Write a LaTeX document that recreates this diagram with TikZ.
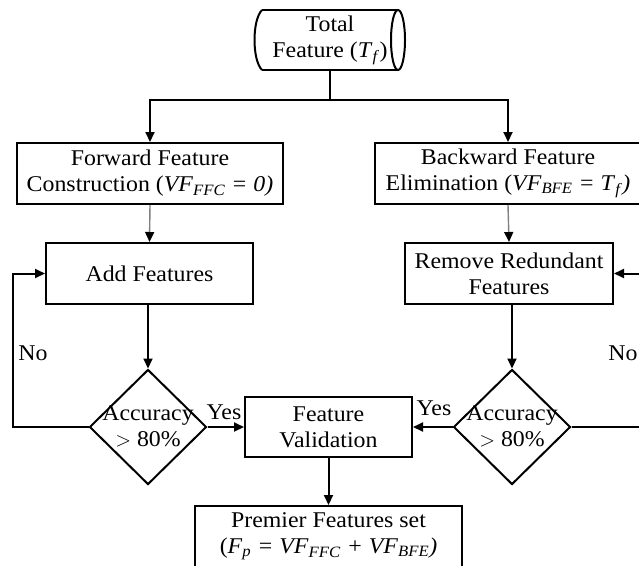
\documentclass[tikz,border=0pt]{standalone}
\usepackage{fontspec}
\setmainfont{Liberation Serif}[FakeStretch=1.06]
\usetikzlibrary{shapes.geometric,arrows.meta}
\tikzset{
  base/.style={font=\fontsize{22.5}{26}\selectfont, align=center, inner sep=0pt},
  box/.style={base, draw, line width=2pt, rectangle},
  dia/.style={base, draw, line width=2pt, diamond, aspect=1},
  tip/.style={-{Triangle[length=10pt,width=9pt,black]}},
  arr/.style={line width=2pt, tip},
  ln/.style={line width=2pt},
  lbl/.style={base}
}
\newcommand{\sub}[1]{\textsubscript{\textit{#1}}}
\begin{document}
\begin{tikzpicture}[x=1pt,y=-1pt]
\useasboundingbox (0,0) rectangle (639,565);
\clip (0,0) rectangle (639,565);
% top cylinder
\node[base, minimum width=150pt, minimum height=60pt] (cyl) at (330,40) {Total\\Feature (\textit{T}\sub{f})};
\draw[ln] (262,10) -- (398,10);
\draw[ln] (262,70) -- (398,70);
\draw[ln] (262,10) .. controls (252,20) and (252,60) .. (262,70);
\draw[ln] (398,40) ellipse [x radius=7pt, y radius=30pt];
% boxes
\node[box, minimum width=266pt, minimum height=61pt] (ffc) at (150,173.5) {Forward Feature\\Construction (\textit{VF}\sub{FFC} \textit{= 0)}};
\node[box, minimum width=266pt, minimum height=61pt] (bfe) at (508,173.5) {Backward Feature\\Elimination (\textit{VF}\sub{BFE} \textit{= T}\sub{f}\textit{)}};
\node[box, minimum width=207pt, minimum height=61pt] (add) at (149.5,273.5) {Add Features};
\node[box, minimum width=208pt, minimum height=61pt] (rem) at (509,273.5) {Remove Redundant\\Features};
\node[dia, minimum width=117pt, minimum height=115pt] (dL) at (148,427) {};
\node[dia, minimum width=117pt, minimum height=115pt] (dR) at (512,427) {};
\node[base] (tL) at (148,426) {Accuracy\\$>$ 80\%};
\node[base] (tR) at (512,426) {Accuracy\\$>$ 80\%};
\node[box, minimum width=167pt, minimum height=60pt] (fv) at (328.5,427) {Feature\\Validation};
\node[box, minimum width=267pt, minimum height=61pt] (prem) at (328.5,536.5) {Premier Features set\\(\textit{F}\sub{p} \textit{= VF}\sub{FFC} \textit{+ VF}\sub{BFE}\textit{)}};
% connectors
\draw[ln] (cyl.south) -- ++(0,30) coordinate (j);
\draw[arr] (j) -| (ffc.north);
\draw[arr] (j) -| (bfe.north);
\draw[line width=1.4pt, draw=black!50, tip] (ffc.south) -- (add.north);
\draw[line width=1.4pt, draw=black!50, tip] (bfe.south) -- (rem.north);
\draw[arr] (dL.north |- add.south) -- (dL.north);
\draw[arr] (dR.north |- rem.south) -- (dR.north);
\draw[arr] (dL.west) -- ++(-76,0) coordinate (cl) |- (add.west);
\draw[arr] (dR.east) -- ++(76,0) coordinate (cr) |- (rem.east);
\draw[arr] (dL.east) -- (fv.west);
\draw[arr] (dR.west) -- (fv.east);
\draw[arr] (fv.south) -- (prem.north);
% labels
\node[lbl] (no1) at (33,353) {No};
\node[lbl] (no2) at (623,353) {No};
\node[lbl] (yes1) at (224,412) {Yes};
\node[lbl] (yes2) at (434,408) {Yes};
\end{tikzpicture}
\end{document}
